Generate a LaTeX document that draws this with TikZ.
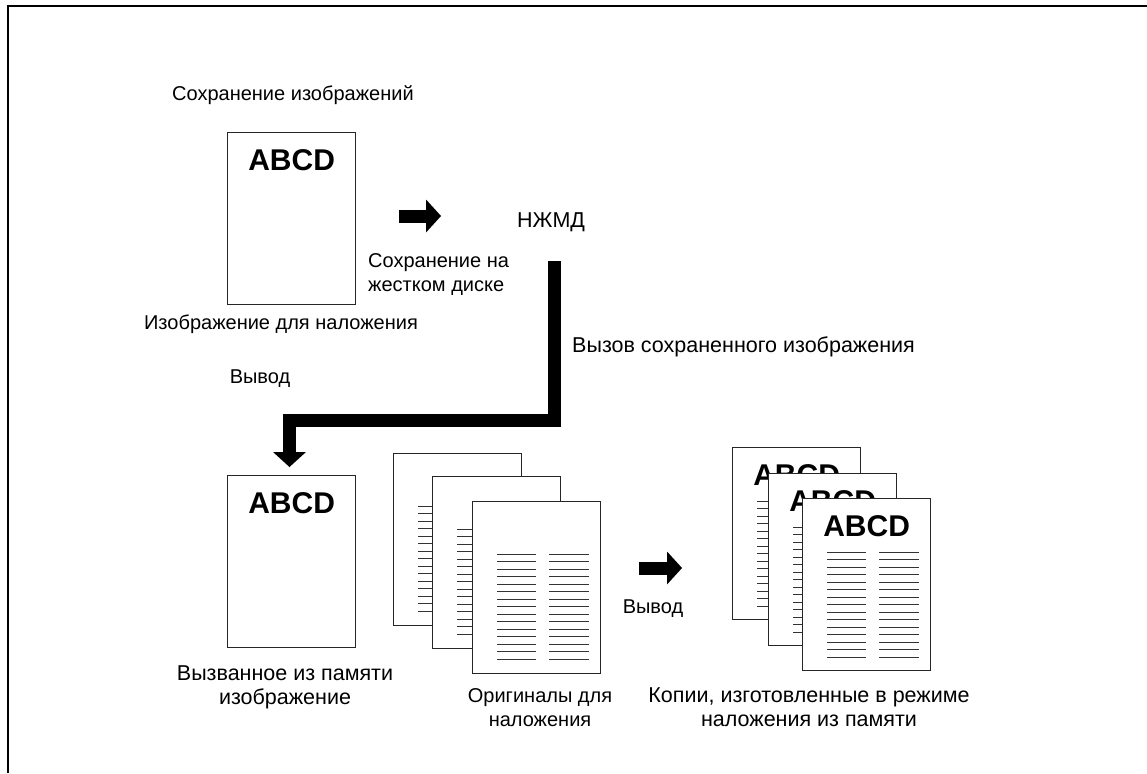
\documentclass[tikz,border=0pt]{standalone}
\usepackage{fontspec}
\setmainfont{Liberation Sans}
\usetikzlibrary{positioning,arrows.meta}

\begin{document}
\begin{tikzpicture}[x=1pt, y=-1pt,
  lbl/.style={font=\fontsize{20}{24}\selectfont, inner sep=0pt},
  widelbl/.style={font=\fontsize{21.5}{24}\selectfont, inner sep=0pt},
  sheet/.style={rectangle, draw=black!85, line width=1.2pt, fill=white, minimum width=128pt, minimum height=172pt, inner sep=0pt, anchor=north west},
  abcd/.style={font=\fontsize{30}{30}\selectfont\bfseries, inner sep=0pt},
  bigarrow/.style={line width=13pt, -{Triangle[length=15pt, width=33pt, line width=0pt]}},
  textline/.style={line width=1pt, black!80}]
\useasboundingbox (0,0) rectangle (1147,773);
\draw[line width=2pt] (8,773) -- (8,6) -- (1147,6);

% image put on the disk
\node (lstore) [lbl, anchor=base west] at (172,101) {Сохранение изображений};
\node (overlay) [sheet] at (227,132) {};
\node (abcdover) [abcd, below=17.5pt of overlay.north] {ABCD};
\node (lover) [lbl, anchor=base] at (281,329) {Изображение для наложения};

\coordinate (tohddstart) at (399,216);
\coordinate (tohddend) at (441,216);
\draw[bigarrow] (tohddstart) -- (tohddend);
\node (hdd) [widelbl, anchor=base west] at (517,227) {НЖМД};
\node (lhddsave) [lbl, anchor=west, align=left] at (368,275) {Сохранение на\\жестком диске};

% call back from the disk
\coordinate (hddout) at (554,261);
\coordinate (bend) at (289.5,420.5);
\coordinate (recallin) at (289.5,467);
\draw[bigarrow] (hddout) |- (bend) -- (recallin);
\node (lcall) [widelbl, anchor=base west] at (572,352) {Вызов сохраненного изображения};
\node (lout) [lbl, anchor=base] at (260,383) {Вывод};

\node (recalled) [sheet] at (227,475) {};
\node (abcdrec) [abcd, below=17.5pt of recalled.north] {ABCD};
\node (lrecalled) [widelbl, align=center] at (285,687) {Вызванное из памяти\\изображение};

% originals
\foreach \s/\x/\y in {origa/393/453, origb/432/476, origc/472/501} {
  \node (\s) [sheet] at (\x,\y) {};
  \foreach \r in {0,...,14}
    \draw[textline] ([shift={(25,{53+7.5*\r})}]\s.north west) -- ++(39,0)
                    ([shift={(77,{53+7.5*\r})}]\s.north west) -- ++(40,0);
}
\node (lorig) [lbl, align=center] at (540,708) {Оригиналы для\\наложения};

\coordinate (outstart) at (639,568);
\coordinate (outend) at (682,568);
\draw[bigarrow] (outstart) -- (outend);
\node (lout2) [lbl, anchor=base] at (653,613) {Вывод};

% copies
\foreach \s/\x/\y in {copya/732/447, copyb/768/473, copyc/802/498} {
  \node (\s) [sheet] at (\x,\y) {};
  \node (\s-abcd) [abcd, below=17pt of \s.north] {ABCD};
  \foreach \r in {0,...,14}
    \draw[textline] ([shift={(25,{54+7.5*\r})}]\s.north west) -- ++(39,0)
                    ([shift={(77,{54+7.5*\r})}]\s.north west) -- ++(40,0);
}
\node (lcopy) [widelbl, align=center] at (809,707) {Копии, изготовленные в режиме\\наложения из памяти};
\end{tikzpicture}
\end{document}
